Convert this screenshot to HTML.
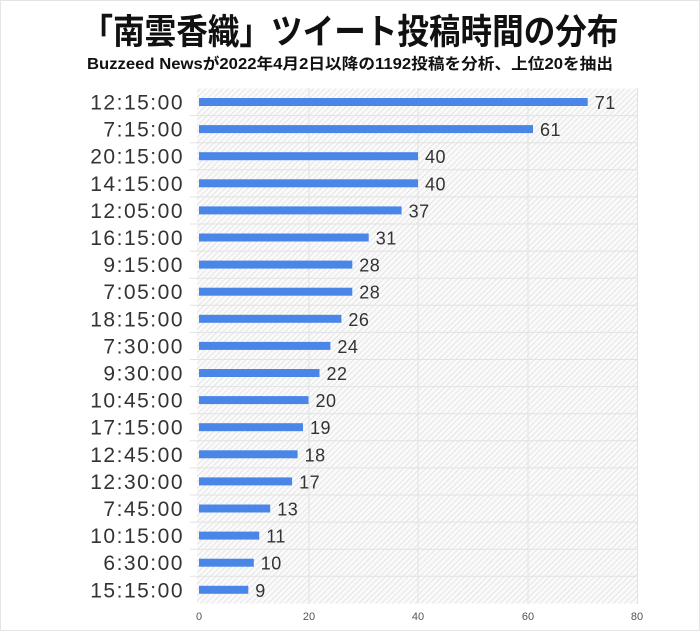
<!DOCTYPE html>
<html><head><meta charset="utf-8"><style>
body{margin:0;background:#fff;}
svg{display:block;}
</style></head><body>
<svg width="700" height="631" xmlns="http://www.w3.org/2000/svg" font-family="Liberation Sans, Noto Sans CJK JP, sans-serif">
<defs>
<pattern id="h" width="4" height="4" patternUnits="userSpaceOnUse" patternTransform="rotate(45)">
<rect width="4" height="4" fill="#fafafa"/><line x1="0" y1="0" x2="0" y2="4" stroke="#d8d8d8" stroke-width="1.2"/>
</pattern>
</defs>
<rect x="0.5" y="0.5" width="699" height="630" fill="#fff" stroke="#e4e4e4"/>
<text x="350" y="44" text-anchor="middle" font-size="35" font-weight="bold" fill="#111" textLength="537" lengthAdjust="spacingAndGlyphs">「南雲香織」ツイート投稿時間の分布</text>
<text x="350" y="69" text-anchor="middle" font-size="15.5" font-weight="bold" fill="#111" textLength="526" lengthAdjust="spacingAndGlyphs">Buzzeed Newsが2022年4月2日以降の1192投稿を分析、上位20を抽出</text>
<rect x="197" y="88.5" width="441" height="515" fill="url(#h)"/>
<g stroke="#e2e2e2" stroke-width="1">
<line x1="309" y1="88" x2="309" y2="604"/><line x1="418" y1="88" x2="418" y2="604"/><line x1="528" y1="88" x2="528" y2="604"/><line x1="637.5" y1="88" x2="637.5" y2="604"/>
<line x1="190" y1="115.6" x2="638" y2="115.6"/><line x1="190" y1="142.7" x2="638" y2="142.7"/><line x1="190" y1="169.8" x2="638" y2="169.8"/><line x1="190" y1="196.9" x2="638" y2="196.9"/><line x1="190" y1="224" x2="638" y2="224"/><line x1="190" y1="251.1" x2="638" y2="251.1"/><line x1="190" y1="278.2" x2="638" y2="278.2"/><line x1="190" y1="305.3" x2="638" y2="305.3"/><line x1="190" y1="332.4" x2="638" y2="332.4"/><line x1="190" y1="359.5" x2="638" y2="359.5"/><line x1="190" y1="386.6" x2="638" y2="386.6"/><line x1="190" y1="413.7" x2="638" y2="413.7"/><line x1="190" y1="440.8" x2="638" y2="440.8"/><line x1="190" y1="467.9" x2="638" y2="467.9"/><line x1="190" y1="495" x2="638" y2="495"/><line x1="190" y1="522.1" x2="638" y2="522.1"/><line x1="190" y1="549.2" x2="638" y2="549.2"/><line x1="190" y1="576.3" x2="638" y2="576.3"/>
</g>
<g fill="#4a86e8">
<rect x="199" y="98" width="388.7" height="8"/>
<rect x="199" y="125.1" width="334" height="8"/>
<rect x="199" y="152.2" width="219" height="8"/>
<rect x="199" y="179.3" width="219" height="8"/>
<rect x="199" y="206.4" width="202.6" height="8"/>
<rect x="199" y="233.5" width="169.7" height="8"/>
<rect x="199" y="260.6" width="153.3" height="8"/>
<rect x="199" y="287.7" width="153.3" height="8"/>
<rect x="199" y="314.8" width="142.4" height="8"/>
<rect x="199" y="341.9" width="131.4" height="8"/>
<rect x="199" y="369" width="120.5" height="8"/>
<rect x="199" y="396.1" width="109.5" height="8"/>
<rect x="199" y="423.2" width="104" height="8"/>
<rect x="199" y="450.3" width="98.6" height="8"/>
<rect x="199" y="477.4" width="93.1" height="8"/>
<rect x="199" y="504.5" width="71.2" height="8"/>
<rect x="199" y="531.6" width="60.2" height="8"/>
<rect x="199" y="558.7" width="54.8" height="8"/>
<rect x="199" y="585.8" width="49.3" height="8"/>
</g>
<g font-size="21" fill="#333" text-anchor="end" letter-spacing="1.5">
<text x="184" y="109.5">12:15:00</text>
<text x="184" y="136.6">7:15:00</text>
<text x="184" y="163.7">20:15:00</text>
<text x="184" y="190.8">14:15:00</text>
<text x="184" y="217.9">12:05:00</text>
<text x="184" y="245">16:15:00</text>
<text x="184" y="272.1">9:15:00</text>
<text x="184" y="299.2">7:05:00</text>
<text x="184" y="326.3">18:15:00</text>
<text x="184" y="353.4">7:30:00</text>
<text x="184" y="380.5">9:30:00</text>
<text x="184" y="407.6">10:45:00</text>
<text x="184" y="434.7">17:15:00</text>
<text x="184" y="461.8">12:45:00</text>
<text x="184" y="488.9">12:30:00</text>
<text x="184" y="516">7:45:00</text>
<text x="184" y="543.1">10:15:00</text>
<text x="184" y="570.2">6:30:00</text>
<text x="184" y="597.3">15:15:00</text>
</g>
<g font-size="18" fill="#333" letter-spacing="0.5">
<text x="594.7" y="109">71</text>
<text x="540" y="136.1">61</text>
<text x="425" y="163.2">40</text>
<text x="425" y="190.3">40</text>
<text x="408.6" y="217.4">37</text>
<text x="375.7" y="244.5">31</text>
<text x="359.3" y="271.6">28</text>
<text x="359.3" y="298.7">28</text>
<text x="348.4" y="325.8">26</text>
<text x="337.4" y="352.9">24</text>
<text x="326.5" y="380">22</text>
<text x="315.5" y="407.1">20</text>
<text x="310" y="434.2">19</text>
<text x="304.6" y="461.3">18</text>
<text x="299.1" y="488.4">17</text>
<text x="277.2" y="515.5">13</text>
<text x="266.2" y="542.6">11</text>
<text x="260.8" y="569.7">10</text>
<text x="255.3" y="596.8">9</text>
</g>
<g font-size="11" fill="#555" text-anchor="middle">
<text x="199" y="620">0</text><text x="309" y="620">20</text><text x="418" y="620">40</text><text x="528" y="620">60</text><text x="637" y="620">80</text>
</g>
</svg>
</body></html>
